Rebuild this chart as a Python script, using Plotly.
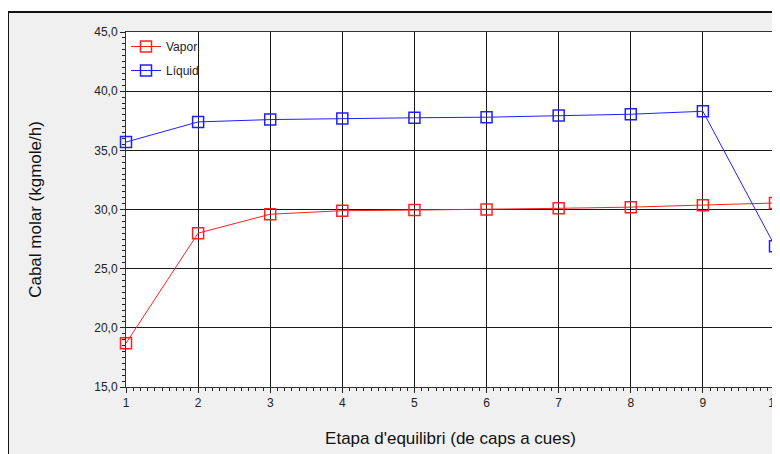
import plotly.graph_objects as go

stages = [1, 2, 3, 4, 5, 6, 7, 8, 9, 10]
vapor = [18.7, 28.0, 29.6, 29.9, 29.95, 30.0, 30.1, 30.2, 30.35, 30.55]
liquid = [35.7, 37.4, 37.6, 37.7, 37.75, 37.8, 37.95, 38.05, 38.3, 26.9]
y_ticks = [15, 20, 25, 30, 35, 40, 45]

font_family = "Liberation Sans, Arial, sans-serif"

W, H = 780, 446
L, R, T, B = 118, 13, 24, 67
PW, PH = W - L - R, H - T - B

fig = go.Figure()
fig.add_trace(go.Scatter(
    x=stages, y=vapor, name="Vapor", mode="lines+markers", legendgroup="v",
    line=dict(color="#ff2020", width=1),
    marker=dict(symbol="square-open", size=11, color="#ff2020", line=dict(width=1.5)),
    cliponaxis=False,
))
fig.add_trace(go.Scatter(
    x=stages, y=liquid, name="Líquid", mode="lines+markers", legendgroup="l",
    line=dict(color="#2020ff", width=1),
    marker=dict(symbol="square-open", size=11, color="#2020ff", line=dict(width=1.5)),
    cliponaxis=False,
))

px_x = lambda p: (p - L) / PW
px_y = lambda p: 1 - (p - T) / PH

fig.update_layout(
    width=W, height=H,
    margin=dict(l=L, r=R, t=T, b=B, autoexpand=False),
    paper_bgcolor="#f0f0f0",
    plot_bgcolor="white",
    separators=",.",
    font=dict(family=font_family, size=12, color="#222"),
    showlegend=True,
    legend=dict(x=0.0, y=1.0, xanchor="left", yanchor="top", traceorder="grouped",
                bgcolor="rgba(0,0,0,0)", font=dict(size=12, color="#222"),
                itemwidth=30, tracegroupgap=5),
    xaxis=dict(
        range=[1, 10], tickmode="array", tickvals=stages,
        ticktext=[str(s) for s in stages],
        ticklabeloverflow="allow",
        automargin=False,
        showgrid=True, gridcolor="#1a1a1a", gridwidth=1,
        showline=True, linecolor="#333", linewidth=1, mirror=True,
        ticks="outside", ticklen=5, tickcolor="#222",
        minor=dict(dtick=0.1, ticks="outside", ticklen=3, tickcolor="#222", showgrid=False),
        zeroline=False,
        tickfont=dict(size=12, color="#222"),
        title=dict(text="Etapa d'equilibri (de caps a cues)", font=dict(size=17, color="#111"), standoff=22),
    ),
    yaxis=dict(
        range=[15, 45], tickmode="array", tickvals=y_ticks,
        tickformat=".1f",
        ticklabeloverflow="allow",
        automargin=False,
        showgrid=True, gridcolor="#1a1a1a", gridwidth=1,
        showline=True, linecolor="#333", linewidth=1, mirror=True,
        ticks="outside", ticklen=5, tickcolor="#222",
        minor=dict(dtick=0.5, ticks="outside", ticklen=3, tickcolor="#222", showgrid=False),
        zeroline=False,
        tickfont=dict(size=12, color="#222"),
        title=dict(text="Cabal molar (kgmole/h)", font=dict(size=17, color="#111"), standoff=48),
    ),
    shapes=[
        dict(type="rect", xref="paper", yref="paper",
             x0=px_x(0), x1=px_x(W + 10), y0=px_y(4), y1=px_y(-2),
             line=dict(width=0), fillcolor="white", layer="above"),
        dict(type="line", xref="paper", yref="paper",
             x0=px_x(0), x1=px_x(W + 10), y0=px_y(4), y1=px_y(4),
             line=dict(color="#111", width=2), layer="above"),
        dict(type="line", xref="paper", yref="paper",
             x0=px_x(0), x1=px_x(0), y0=px_y(4), y1=px_y(H + 10),
             line=dict(color="#111", width=2), layer="above"),
    ],
)

fig.write_html("out.html")
